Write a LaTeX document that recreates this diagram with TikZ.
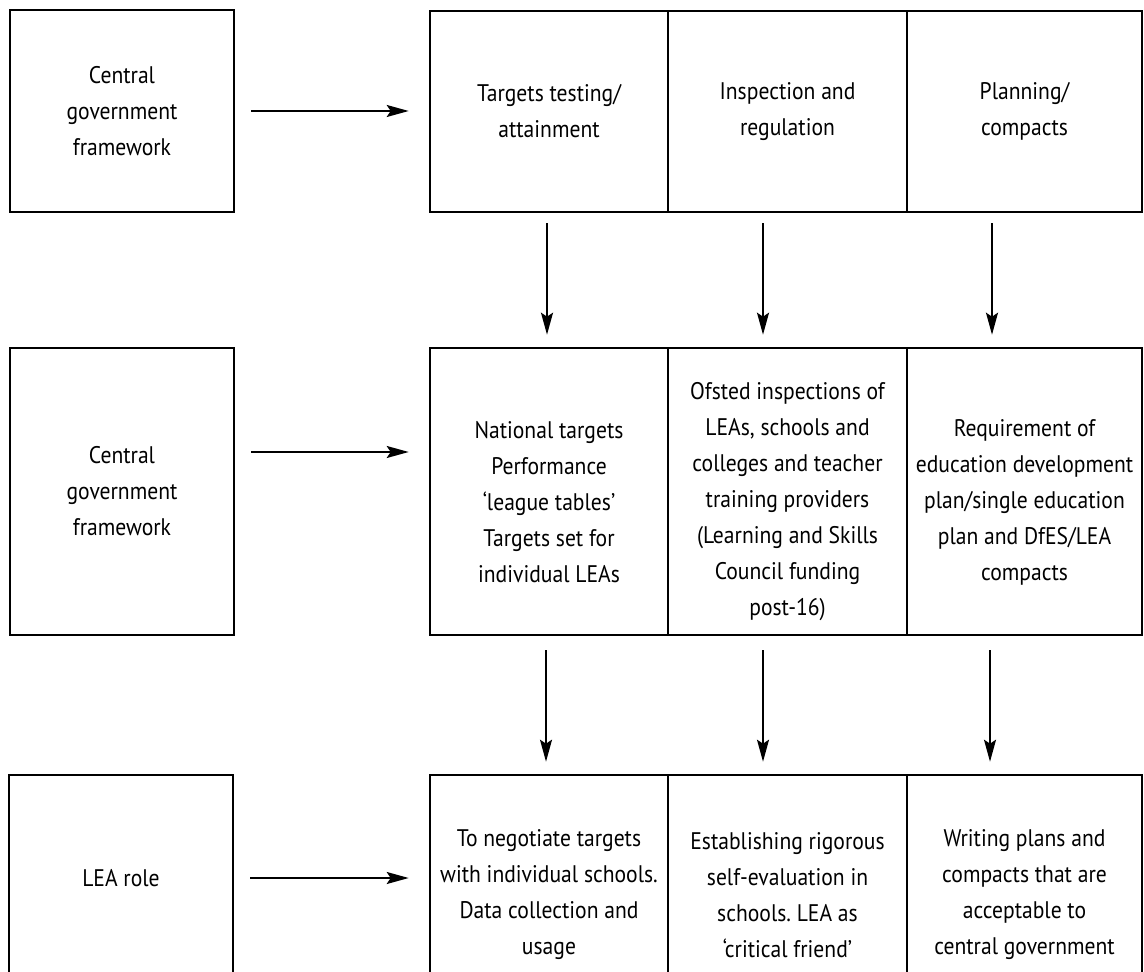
\documentclass[tikz,border=0pt]{standalone}
\usepackage{fontspec}
\setmainfont{PT Sans}[FakeStretch=0.9]
\usetikzlibrary{arrows.meta}
\frenchspacing
\newcommand{\lowstrut}{\rule{0pt}{19pt}}
\tikzset{
  box/.style={draw, line width=1.3pt, inner sep=0pt, align=center,
    font=\fontsize{12pt}{18pt}\selectfont},
  arr/.style={line width=1pt, -{Stealth[length=11pt,width=6pt,inset=2pt]}},
}
\begin{document}
\begin{tikzpicture}[x=0.5pt,y=-0.5pt]
\useasboundingbox (0,0) rectangle (1144,972);
\clip (0,0) rectangle (1144,972);
% left column
\node[box, minimum width=112pt, minimum height=101pt] (L1) at (122,111) {Central\\government\\framework};
\node[box, minimum width=112pt, minimum height=143.5pt] (L2) at (122,491.5) {Central\\government\\framework};
\node[box, minimum width=112pt, minimum height=103pt] (L3) at (121,878) {LEA role};
% row 1
\node[box, minimum width=119pt, minimum height=100.5pt] (T1) at (549,111.5) {Targets testing/\\attainment};
\node[box, minimum width=119.5pt, minimum height=100.5pt] (T2) at (787.5,111.5) {Inspection and\\regulation};
\node[box, minimum width=117.5pt, minimum height=100.5pt] (T3) at (1024.5,111.5) {Planning/\\compacts};
% row 2
\node[box, minimum width=119pt, minimum height=143.5pt] (M1) at (549,491.5) {\lowstrut National targets\\Performance\\‘league tables’\\Targets set for\\individual LEAs};
\node[box, minimum width=119.5pt, minimum height=143.5pt] (M2) at (787.5,491.5) {\lowstrut Ofsted inspections of\\LEAs, schools and\\colleges and teacher\\training providers\\(Learning and Skills\\Council funding\\post-16)};
\node[box, minimum width=117.5pt, minimum height=143.5pt] (M3) at (1024.5,491.5) {\lowstrut Requirement of\\education development\\plan/single education\\plan and DfES/LEA\\compacts};
% row 3
\node[box, minimum width=119pt, minimum height=120pt] (B1) at (549,895) {To negotiate targets\\with individual schools.\\Data collection and\\usage};
\node[box, minimum width=119.5pt, minimum height=120pt] (B2) at (787.5,895) {Establishing rigorous\\self-evaluation in\\schools. LEA as\\‘critical friend’};
\node[box, minimum width=117.5pt, minimum height=120pt] (B3) at (1024.5,895) {Writing plans and\\compacts that are\\acceptable to\\central government};
% horizontal arrows
\draw[arr, shorten <=8pt, shorten >=10pt] (L1.east) -- (L1.east -| T1.west);
\draw[arr, shorten <=8pt, shorten >=10pt] (L2.east |- 0,452) -- (T1.west |- 0,452);
\draw[arr, shorten <=8pt, shorten >=10pt] (L3.east) -- (L3.east -| T1.west);
% vertical arrows row1 -> row2
\draw[arr, shorten <=5pt, shorten >=6pt] ([xshift=-1pt]T1.south) -- ([xshift=-1pt]M1.north);
\draw[arr, shorten <=5pt, shorten >=6pt] ([xshift=-12.25pt]T2.south) -- ([xshift=-12.25pt]M2.north);
\draw[arr, shorten <=5pt, shorten >=6pt] ([xshift=-16.25pt]T3.south) -- ([xshift=-16.25pt]M3.north);
% vertical arrows row2 -> row3
\draw[arr, shorten <=7pt, shorten >=6pt] ([xshift=-1.5pt]M1.south) -- ([xshift=-1.5pt]B1.north);
\draw[arr, shorten <=7pt, shorten >=6pt] ([xshift=-12.25pt]M2.south) -- ([xshift=-12.25pt]B2.north);
\draw[arr, shorten <=7pt, shorten >=6pt] ([xshift=-17.25pt]M3.south) -- ([xshift=-17.25pt]B3.north);
\end{tikzpicture}
\end{document}
